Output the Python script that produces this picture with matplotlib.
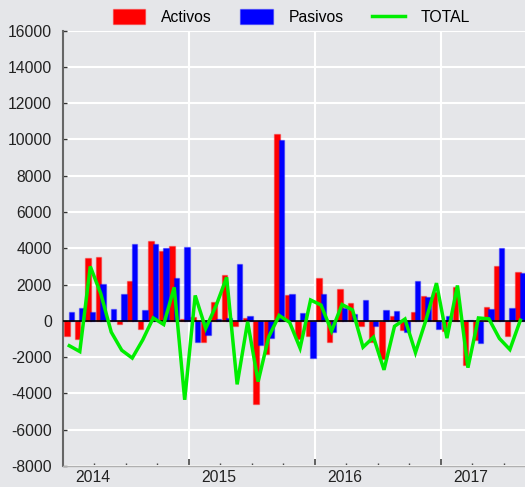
import numpy as np
import matplotlib
matplotlib.use("Agg")
import matplotlib.pyplot as plt
from matplotlib.patches import Patch
from matplotlib.lines import Line2D

# monthly values, Jan 2014 .. Aug 2017
activos = [-860, -990, 3450, 3540, 20, -180, 2200, -460, 4400, 3870, 4110, 110,
           220, -1140, 1030, 2510, -260, 150, -4590, -1830, 10300, 1410, -990, -860,
           2350, -1170, 1760, 970, -280, -1170, -2090, 275, -510, 500, 1380, 1600,
           -570, 1890, -2420, -1080, 790, 3050, -840, 2680]
pasivos = [510, 700, 480, 2050, 640, 1470, 4240, 590, 4240, 4040, 2385, 4060,
           -1140, -770, 110, 180, 3120, 275, -1320, -950, 9970, 1470, 460, -2020,
           1490, -640, 730, 385, 1160, -275, 605, 570, -600, 2200, 1320, -460,
           275, 20, 30, -1230, 680, 4000, 720, 2620]
total = [-1370, -1690, 3000, 1500, -620, -1620, -2050, -1050, 160, -200, 1850, -4350,
         1400, -420, 850, 2400, -3500, -50, -3350, -900, 300, -80, -1500, 1150,
         870, -560, 900, 600, -1450, -900, -2700, -300, 100, -1750, 50, 2080,
         -950, 1950, -2580, 160, 110, -970, -1580, 40]
years = ["2014", "2015", "2016", "2017"]
y_ticks = list(range(-8000, 16001, 2000))

BG = "#e5e6e9"
plt.rcParams["font.family"] = ["Liberation Sans", "DejaVu Sans"]
plt.rcParams["font.size"] = 11.3

fig = plt.figure(figsize=(5.25, 4.87), dpi=100, facecolor=BG)
ax = fig.add_axes([63 / 525, 21 / 487, 462 / 525, 435.4 / 487], facecolor=BG)

x = np.arange(len(activos)) + 0.6
w = 0.52
ax.bar(x - 0.21, activos, width=w, color="#ff0000",
       edgecolor=(1, 0, 0, 0.35), linewidth=1, zorder=2)
ax.bar(x + 0.21, pasivos, width=w, color="#0000ff",
       edgecolor=(0, 0, 1, 0.35), linewidth=1, zorder=2.1)
ax.axhline(0, color="black", lw=1.2, zorder=3)
ax.plot(x, total, color="#00ee00", lw=2.5, solid_joinstyle="miter", zorder=4)

ax.set_xlim(0, 44.04)
ax.set_ylim(-8000, 16000)
ax.set_yticks(y_ticks)
ax.set_yticklabels([str(v) for v in y_ticks], color="#222222")
ax.tick_params(axis="y", direction="in", length=3, width=1, color="#333333", pad=8)

# year boundaries (grid + long ticks), quarter minor ticks
ax.set_xticks([12, 24, 36])
ax.set_xticklabels([])
ax.set_xticks([m for m in range(3, 44, 3) if m % 12], minor=True)
ax.tick_params(axis="x", which="major", direction="in", length=5, width=1.2, color="#444444")
ax.tick_params(axis="x", which="minor", direction="in", length=2, width=1, color="#444444")

ax.grid(True, axis="both", which="major", color="white", lw=1.5, zorder=0)
ax.set_axisbelow(True)

sec = ax.secondary_xaxis("bottom")
sec.set_xticks([12 * k + 2.85 for k in range(len(years))])
sec.set_xticklabels(years, color="#222222")
sec.tick_params(length=0, pad=3)
sec.spines["bottom"].set_visible(False)

for s in ["top", "right"]:
    ax.spines[s].set_visible(False)
ax.spines["left"].set_color("#666666")
ax.spines["left"].set_linewidth(1.5)
ax.spines["bottom"].set_color("#b0b0b0")
ax.spines["bottom"].set_linewidth(1)

handles = [
    Patch(facecolor="#ff0000", edgecolor=(1, 0, 0, 0.35)),
    Patch(facecolor="#0000ff", edgecolor=(0, 0, 1, 0.35)),
    Line2D([], [], color="#00ee00", lw=2.5),
]
fig.legend(handles, ["Activos", "Pasivos", "TOTAL"], loc="center",
           bbox_to_anchor=(0.555, 0.965), ncol=3, frameon=False,
           handlelength=2.1, handleheight=1.1, handletextpad=1.0,
           columnspacing=1.8)

fig.savefig("out.png", dpi=100, facecolor=BG)
